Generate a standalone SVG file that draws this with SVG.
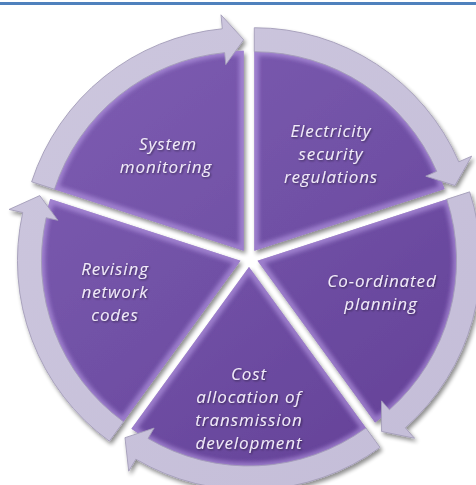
<svg xmlns="http://www.w3.org/2000/svg" width="476" height="485" viewBox="0 0 476 485">
<defs>
<linearGradient id="wg" gradientUnits="userSpaceOnUse" x1="80" y1="40" x2="420" y2="480">
<stop offset="0" stop-color="#7e5db2"/>
<stop offset="0.5" stop-color="#7050a5"/>
<stop offset="1" stop-color="#633f96"/>
</linearGradient>
<linearGradient id="rg" gradientUnits="userSpaceOnUse" x1="0" y1="0" x2="476" y2="485">
<stop offset="0" stop-color="#cdc7de"/>
<stop offset="1" stop-color="#c4bdd8"/>
</linearGradient>
<filter id="sh" x="-10%" y="-10%" width="120%" height="120%">
<feGaussianBlur in="SourceAlpha" stdDeviation="2.2"/>
<feOffset dx="1.5" dy="2.5" result="b"/>
<feComponentTransfer><feFuncA type="linear" slope="0.45"/></feComponentTransfer>
<feMerge><feMergeNode/><feMergeNode in="SourceGraphic"/></feMerge>
</filter>
<filter id="soft"><feGaussianBlur stdDeviation="2"/></filter>
<filter id="ts" x="-10%" y="-20%" width="120%" height="140%">
<feGaussianBlur in="SourceAlpha" stdDeviation="0.8"/>
<feOffset dx="0.8" dy="1"/>
<feComponentTransfer><feFuncA type="linear" slope="0.5"/></feComponentTransfer>
<feMerge><feMergeNode/><feMergeNode in="SourceGraphic"/></feMerge>
</filter>
<clipPath id="c1"><path d="M243.71 250.72 L53.5 188.92 A200 200 0 0 1 243.71 50.72 Z"/></clipPath>
<clipPath id="c2"><path d="M254.29 250.72 L254.29 50.72 A200 200 0 0 1 444.5 188.92 Z"/></clipPath>
<clipPath id="c3"><path d="M257.56 260.78 L447.77 198.98 A200 200 0 0 1 375.12 422.58 Z"/></clipPath>
<clipPath id="c4"><path d="M249 267 L366.56 428.8 A200 200 0 0 1 131.44 428.8 Z"/></clipPath>
<clipPath id="c5"><path d="M240.44 260.78 L122.88 422.58 A200 200 0 0 1 50.23 198.98 Z"/></clipPath>
</defs>
<style>
.wedge{fill:url(#wg);}
.rim{fill:none;stroke:#c3a6ee;stroke-width:9;opacity:0.55;filter:url(#soft);}
.ring{fill:url(#rg);stroke:#a49db9;stroke-width:0.9;stroke-linejoin:round;}
.lbl{font-family:"Open Sans","DejaVu Sans",sans-serif;font-style:italic;font-size:17px;letter-spacing:0.9px;fill:#f1ebf8;text-anchor:middle;filter:url(#ts);}
</style>
<rect x="0" y="0" width="476" height="485" fill="#ffffff"/>
<rect x="0" y="2" width="476" height="3" fill="#4f81bd"/>

<g id="node-system-monitoring" filter="url(#sh)">
<path class="wedge" d="M243.71 250.72 L53.5 188.92 A200 200 0 0 1 243.71 50.72 Z"/>
<path class="rim" clip-path="url(#c1)" d="M243.71 250.72 L53.5 188.92 A200 200 0 0 1 243.71 50.72 Z"/>
<path class="ring" d="M31.62 181.81 A223 223 0 0 1 222.34 28.75 L220.99 14.81 L243.71 39.72 L225.79 64.58 L224.64 52.64 A199 199 0 0 0 54.45 189.22 Z"/>
<text class="lbl" x="168" y="149.5">System</text>
<text class="lbl" x="166" y="172.8">monitoring</text>
</g>

<g id="node-electricity-security-regulations" filter="url(#sh)">
<path class="wedge" d="M254.29 250.72 L254.29 50.72 A200 200 0 0 1 444.5 188.92 Z"/>
<path class="rim" clip-path="url(#c2)" d="M254.29 250.72 L254.29 50.72 A200 200 0 0 1 444.5 188.92 Z"/>
<path class="ring" d="M254.29 27.72 A223 223 0 0 1 458.79 161.8 L471.63 156.22 L454.96 185.52 L425.78 176.15 L436.78 171.37 A199 199 0 0 0 254.29 51.72 Z"/>
<text class="lbl" x="331" y="136.5">Electricity</text>
<text class="lbl" x="331" y="159.8">security</text>
<text class="lbl" x="331" y="183.1">regulations</text>
</g>

<g id="node-co-ordinated-planning" filter="url(#sh)">
<path class="wedge" d="M257.56 260.78 L447.77 198.98 A200 200 0 0 1 375.12 422.58 Z"/>
<path class="rim" clip-path="url(#c3)" d="M257.56 260.78 L447.77 198.98 A200 200 0 0 1 375.12 422.58 Z"/>
<path class="ring" d="M469.65 191.87 A223 223 0 0 1 405.32 427.8 L414.6 438.28 L381.58 431.48 L381.47 400.84 L389.42 409.82 A199 199 0 0 0 446.82 199.28 Z"/>
<text class="lbl" x="382" y="286.5">Co-ordinated</text>
<text class="lbl" x="381" y="309.8">planning</text>
</g>

<g id="node-cost-allocation" filter="url(#sh)">
<path class="wedge" d="M249 267 L366.56 428.8 A200 200 0 0 1 131.44 428.8 Z"/>
<path class="rim" clip-path="url(#c4)" d="M249 267 L366.56 428.8 A200 200 0 0 1 131.44 428.8 Z"/>
<path class="ring" d="M380.08 447.41 A223 223 0 0 1 135.82 459.14 L128.71 471.21 L124.98 437.7 L154.09 428.12 L148 438.46 A199 199 0 0 0 365.97 427.99 Z"/>
<text class="lbl" x="249" y="379.5">Cost</text>
<text class="lbl" x="249" y="402.8">allocation of</text>
<text class="lbl" x="249" y="426.1">transmission</text>
<text class="lbl" x="249" y="449.4">development</text>
</g>

<g id="node-revising-network-codes" filter="url(#sh)">
<path class="wedge" d="M240.44 260.78 L122.88 422.58 A200 200 0 0 1 50.23 198.98 Z"/>
<path class="rim" clip-path="url(#c5)" d="M240.44 260.78 L122.88 422.58 A200 200 0 0 1 50.23 198.98 Z"/>
<path class="ring" d="M109.36 441.19 A223 223 0 0 1 22.73 212.51 L9.06 209.48 L39.77 195.58 L57.87 220.31 L46.16 217.71 A199 199 0 0 0 123.47 421.77 Z"/>
<text class="lbl" x="115" y="274.5">Revising</text>
<text class="lbl" x="115" y="297.8">network</text>
<text class="lbl" x="115" y="321.1">codes</text>
</g>

<g id="connectors"></g>
</svg>
